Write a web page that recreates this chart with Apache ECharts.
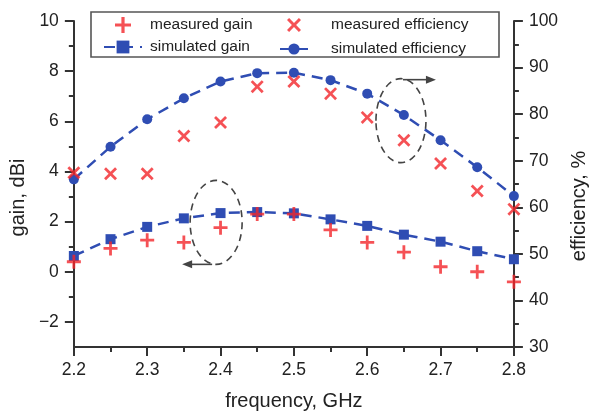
<!DOCTYPE html>
<html>
<head>
<meta charset="utf-8">
<script src="https://cdn.jsdelivr.net/npm/echarts@6/dist/echarts.min.js"></script>
<style>html,body{margin:0;padding:0;background:#fff;}#main{width:597px;height:416px;}</style>
</head>
<body>
<div id="main"></div>
<script>
// ---- data ----
const freq = [2.2, 2.25, 2.3, 2.35, 2.4, 2.45, 2.5, 2.55, 2.6, 2.65, 2.7, 2.75, 2.8];
const measuredGain = [0.4, 0.93, 1.26, 1.17, 1.76, 2.3, 2.3, 1.67, 1.17, 0.78, 0.2, 0.0, -0.4];
const simulatedGain = [0.63, 1.3, 1.79, 2.13, 2.34, 2.38, 2.33, 2.09, 1.83, 1.48, 1.2, 0.82, 0.5];
const measuredEff = [67.4, 67.2, 67.2, 75.3, 78.2, 85.9, 87.0, 84.4, 79.3, 74.4, 69.4, 63.5, 59.6];
const simulatedEff = [66.0, 73.0, 78.9, 83.4, 87.0, 88.8, 88.9, 87.3, 84.4, 79.8, 74.4, 68.6, 62.4];
const gainTicks = [-2, 0, 2, 4, 6, 8, 10];
const gainMinorTicks = [-1, 1, 3, 5, 7, 9];

const FONT = '"Liberation Sans", Arial, Helvetica, sans-serif';
const RED = '#f2262b';
const BLUE = '#2f4db3';
const AX = '#333';
const PLUS = 'path://M4,0H6V4H10V6H6V10H4V6H0V4H4Z';
const CROSS = 'path://M0,1.5L1.5,0L5,3.5L8.5,0L10,1.5L6.5,5L10,8.5L8.5,10L5,6.5L1.5,10L0,8.5L3.5,5Z';
const pairs = (xs, ys) => xs.map((x, i) => [x, ys[i]]);

const chart = echarts.init(document.getElementById('main'));
const axisCommon = {
  axisLine: { show: true, onZero: false, lineStyle: { color: AX, width: 2 } },
  splitLine: { show: false },
  nameTextStyle: { fontSize: 20, color: '#222', fontFamily: FONT }
};
chart.setOption({
  animation: false,
  textStyle: { fontFamily: FONT },
  grid: { left: 68, right: 69, top: 21, bottom: 67 },
  legend: [
    { data: ['measured gain', 'simulated gain'], orient: 'vertical', left: 103, top: 17, padding: 0,
      itemWidth: 38, itemHeight: 16, itemGap: 6,
      textStyle: { fontSize: 15.5, color: '#222', fontFamily: FONT, padding: [0, 0, 0, 3] } },
    { data: ['measured efficiency', 'simulated efficiency'], orient: 'vertical', left: 279, top: 17, padding: 0,
      itemWidth: 28, itemHeight: 14, itemGap: 8,
      textStyle: { fontSize: 15.5, color: '#222', fontFamily: FONT, padding: [0, 0, 0, 18] } }
  ],
  xAxis: Object.assign({}, axisCommon, {
    type: 'value', min: 2.2, max: 2.8, interval: 0.1,
    axisTick: { length: 9, lineStyle: { color: AX, width: 2 } },
    minorTick: { show: true, splitNumber: 2, length: 5, lineStyle: { color: AX, width: 2 } },
    axisLabel: { fontSize: 17.5, color: '#222', margin: 14, formatter: v => v.toFixed(1) },
    name: 'frequency, GHz', nameLocation: 'middle', nameGap: 44
  }),
  yAxis: [
    Object.assign({}, axisCommon, {
      type: 'value', min: -3, max: 10, position: 'left',
      axisTick: { length: 9, customValues: gainTicks, lineStyle: { color: AX, width: 2 } },
      axisLabel: { fontSize: 17.5, color: '#222', margin: 15, customValues: gainTicks,
        formatter: v => v < 0 ? '\u2212' + Math.abs(v) : String(v) },
      name: 'gain, dBi', nameLocation: 'middle', nameGap: 35,
      nameTextStyle: { fontSize: 20, color: '#222', fontFamily: FONT, padding: [0, 27, 0, 0] }
    }),
    Object.assign({}, axisCommon, {
      type: 'value', min: 30, max: 100, interval: 10, position: 'right',
      axisTick: { length: 9, lineStyle: { color: AX, width: 2 } },
      minorTick: { show: true, splitNumber: 2, length: 5, lineStyle: { color: AX, width: 2 } },
      axisLabel: { fontSize: 17.5, color: '#222', margin: 15 },
      name: 'efficiency, %', nameLocation: 'middle', nameGap: 49,
      nameTextStyle: { fontSize: 20, color: '#222', fontFamily: FONT, padding: [0, 44, 0, 0] }
    }),
    {
      type: 'value', min: -3, max: 10, position: 'left',
      axisLine: { show: false, onZero: false }, splitLine: { show: false }, axisLabel: { show: false },
      axisTick: { show: true, length: 5, customValues: gainMinorTicks, lineStyle: { color: AX, width: 2 } }
    }
  ],
  series: [
    { name: 'simulated gain', type: 'line', yAxisIndex: 0, data: pairs(freq, simulatedGain),
      symbol: 'rect', symbolSize: 10, itemStyle: { color: BLUE },
      lineStyle: { color: BLUE, width: 2.5, type: [11, 7] }, z: 2 },
    { name: 'simulated efficiency', type: 'line', yAxisIndex: 1, data: pairs(freq, simulatedEff),
      symbol: 'circle', symbolSize: 10, itemStyle: { color: BLUE },
      lineStyle: { color: BLUE, width: 2.5, type: [11, 7] }, z: 2 },
    { name: 'measured gain', type: 'scatter', yAxisIndex: 0, data: pairs(freq, measuredGain),
      symbol: PLUS, symbolSize: 14, itemStyle: { color: RED }, z: 3 },
    { name: 'measured efficiency', type: 'scatter', yAxisIndex: 1, data: pairs(freq, measuredEff),
      symbol: CROSS, symbolSize: 13, itemStyle: { color: RED }, z: 3 }
  ]
});

// annotations (ellipses with arrows) placed in data coordinates
const p1 = chart.convertToPixel({ xAxisIndex: 0, yAxisIndex: 0 }, [2.394, 1.97]);
const p2 = chart.convertToPixel({ xAxisIndex: 0, yAxisIndex: 1 }, [2.646, 78.6]);
const dash = { stroke: '#444', lineWidth: 1.6, fill: null, lineDash: [7, 5] };
const solid = { stroke: '#444', lineWidth: 1.6 };
chart.setOption({
  graphic: [
    { type: 'rect', shape: { x: 91, y: 12, width: 408, height: 45 }, style: { fill: '#fff', stroke: '#555', lineWidth: 1.6 }, z: 1, silent: true },
    { type: 'ellipse', shape: { cx: p1[0], cy: p1[1], rx: 26, ry: 42 }, style: dash, z: 5, silent: true },
    { type: 'line', shape: { x1: p1[0] - 4, y1: p1[1] + 42, x2: p1[0] - 28, y2: p1[1] + 42 }, style: solid, z: 5, silent: true },
    { type: 'polygon', shape: { points: [[p1[0] - 34, p1[1] + 42], [p1[0] - 24, p1[1] + 38], [p1[0] - 24, p1[1] + 46]] }, style: { fill: '#444' }, z: 5, silent: true },
    { type: 'ellipse', shape: { cx: p2[0], cy: p2[1], rx: 25, ry: 42 }, style: dash, z: 5, silent: true },
    { type: 'line', shape: { x1: p2[0] + 2, y1: p2[1] - 41, x2: p2[0] + 28, y2: p2[1] - 41 }, style: solid, z: 5, silent: true },
    { type: 'polygon', shape: { points: [[p2[0] + 35, p2[1] - 41], [p2[0] + 25, p2[1] - 45], [p2[0] + 25, p2[1] - 37]] }, style: { fill: '#444' }, z: 5, silent: true }
  ]
});
</script>
</body>
</html>
